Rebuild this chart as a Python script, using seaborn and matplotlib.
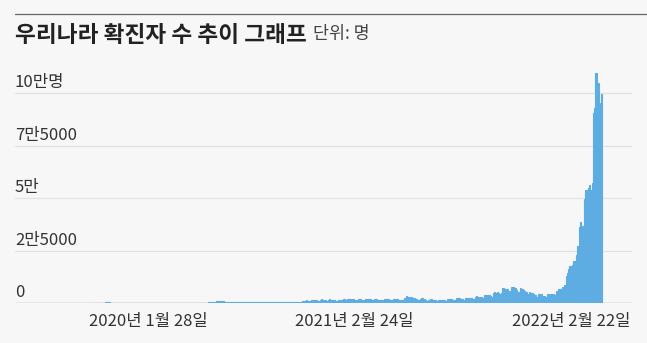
import numpy as np
import pandas as pd
import matplotlib
matplotlib.use("Agg")
import matplotlib.pyplot as plt
import seaborn as sns

# ---------------- data ----------------
title = "우리나라 확진자 수 추이 그래프"
unit_label = "단위: 명"
ytick_values = [0, 25000, 50000, 75000, 100000]
ytick_labels = ["0", "2만5000", "5만", "7만5000", "10만명"]
xtick_labels = ["2020년 1월 28일", "2021년 2월 24일", "2022년 2월 22일"]

# weekly average of daily cases, 2020-01-20 .. 2021-06-27 (compressed part of the chart)
early_weekly = [
    1, 2, 2, 1, 89, 480, 515, 147, 105, 98, 93, 39, 21, 10, 8, 12, 25, 20, 38, 45,
    42, 45, 42, 52, 40, 35, 52, 30, 33, 95, 297, 329, 211, 143, 114, 91, 69, 74, 86, 91,
    114, 113, 160, 313, 441, 540, 749, 982, 1014, 911, 774, 527, 395, 446, 385, 382, 489, 394, 400, 451,
    438, 438, 494, 628, 644, 677, 620, 578, 654, 601, 552, 606, 524, 462, 581,
]

# daily cases, 2021-06-28 .. 2022-02-22
daily_cases = [
    501, 595, 794, 762, 826, 794, 743, 711, 746, 1212, 1275, 1316, 1378, 1324,
    1100, 1150, 1615, 1600, 1536, 1452, 1454, 1252, 1278, 1781, 1842, 1630, 1629, 1487,
    1318, 1363, 1896, 1674, 1710, 1539, 1442, 1218, 1202, 1725, 1775, 1776, 1704, 1823,
    1492, 1537, 2223, 1987, 1990, 1928, 1816, 1556, 1372, 1805, 2152, 2050, 1882, 1628,
    1418, 1509, 2155, 2236, 1882, 1840, 1793, 1619, 1487, 2025, 1961, 1709, 1804, 1490,
    1375, 1597, 2050, 2049, 1892, 1865, 1755, 1433, 1497, 2080, 2008, 1943, 1909, 1604,
    1605, 1729, 1720, 1716, 2434, 3273, 3030, 2771, 2289, 2885, 2564, 2486, 2086, 2248,
    1673, 1575, 2028, 2427, 2176, 1953, 1594, 1297, 1347, 1584, 1940, 1684, 1618, 1420,
    1050, 1073, 1571, 1441, 1439, 1508, 1423, 1266, 1190, 1952, 2111, 2124, 2061, 1686,
    1589, 1686, 2667, 2482, 2344, 2248, 2224, 1758, 1715, 2425, 2520, 2368, 2324, 2419,
    2006, 2125, 3187, 3292, 3034, 3206, 3120, 2827, 2699, 4116, 3938, 3901, 4068, 3925,
    3309, 3032, 5123, 5266, 4944, 5352, 5128, 4325, 4954, 7175, 7102, 7022, 7022, 6689,
    5817, 5567, 7850, 7622, 7435, 7314, 6236, 5318, 5202, 7456, 6919, 6233, 5842, 5419,
    4207, 3865, 5409, 5035, 4875, 4416, 3833, 3129, 3022, 4443, 4126, 4444, 3713, 3376,
    3007, 3097, 4388, 4167, 4542, 4423, 4197, 3858, 4071, 5805, 6603, 6769, 7009, 7630,
    7513, 8571, 13012, 14518, 16096, 17542, 17079, 18342, 20270, 20043, 22907, 27443, 36362, 38691,
    35286, 36719, 49567, 54122, 53926, 54941, 56431, 53926, 57177, 90443, 93135, 109831, 102211, 104829,
    95362, 99573,
]

# ---------------- layout ----------------
W, H, DPI = 647, 343, 100
BG = "#f7f7f7"
BAR = "#5dade2"
TXT = "#333333"

early_w = 2.03  # width of one weekly bar, in daily-bar units
n_e, n_d = len(early_weekly), len(daily_cases)
early_total = n_e * early_w

early_pos = (np.arange(n_e) + 0.5) * early_w
daily_pos = early_total + np.arange(n_d) + 0.5
df_e = pd.DataFrame({"pos": early_pos, "cases": np.array(early_weekly, float)})
df_d = pd.DataFrame({"pos": daily_pos, "cases": np.array(daily_cases, float)})

sns.set_theme(style="white")
plt.rcParams["font.family"] = ["Noto Sans CJK KR", "DejaVu Sans"]

fig = plt.figure(figsize=(W / DPI, H / DPI), dpi=DPI, facecolor=BG)
ax = fig.add_axes([15 / W, 39.7 / H, 617 / W, 243.3 / H])
ax.set_facecolor(BG)

common = dict(stat="count", color=BAR, alpha=1, edgecolor=BAR,
              linewidth=0.8, ax=ax, zorder=3)
sns.histplot(x=df_e["pos"].to_numpy(), weights=df_e["cases"].to_numpy(),
             binwidth=early_w, binrange=(0, early_total - 1e-6), **common)
sns.histplot(x=df_d["pos"].to_numpy(), weights=df_d["cases"].to_numpy(),
             binwidth=1, binrange=(early_total, early_total + n_d - 1e-6), **common)

px_per_unit = 1.3
ax.set_xlim(-(92 - 15) / px_per_unit, early_total + n_d + (632 - 602) / px_per_unit)
ax.set_ylim(0, 115860)
ax.set_yticks(ytick_values)
ax.set_xticks([])
ax.tick_params(axis="y", length=0, labelleft=False)
ax.grid(axis="y", color="#e1e1e1", linewidth=0.9, zorder=0)
ax.grid(axis="x", visible=False)
for s in ax.spines.values():
    s.set_visible(False)
ax.axhline(0, color="#8a8a8a", linewidth=0.9, zorder=2)
ax.set_xlabel("")
ax.set_ylabel("")

for v, lab in zip(ytick_values, ytick_labels):
    ax.annotate(lab, xy=(0, v), xycoords=("axes fraction", "data"),
                xytext=(0, 4.5), textcoords="offset points",
                ha="left", va="baseline", fontsize=12, color=TXT)

for frac, ha, lab in zip([(89 - 15) / 617, (354 - 15) / 617, (631 - 15) / 617],
                         ["left", "center", "right"], xtick_labels):
    ax.annotate(lab, xy=(frac, 0), xycoords="axes fraction",
                xytext=(0, -16.4), textcoords="offset points",
                ha=ha, va="baseline", fontsize=12, color=TXT)

fig.add_artist(plt.Line2D([15 / W, 1.0], [(H - 14.3) / H] * 2,
                          color="#666666", linewidth=0.9))
fig.text(15 / W, (H - 41.8) / H, title, fontsize=16.3, fontweight="bold",
         color="#222222", ha="left", va="baseline")
fig.text(313 / W, (H - 39.0) / H, unit_label, fontsize=12.5,
         color="#444444", ha="left", va="baseline")

fig.savefig("out.png", dpi=DPI, facecolor=BG)
